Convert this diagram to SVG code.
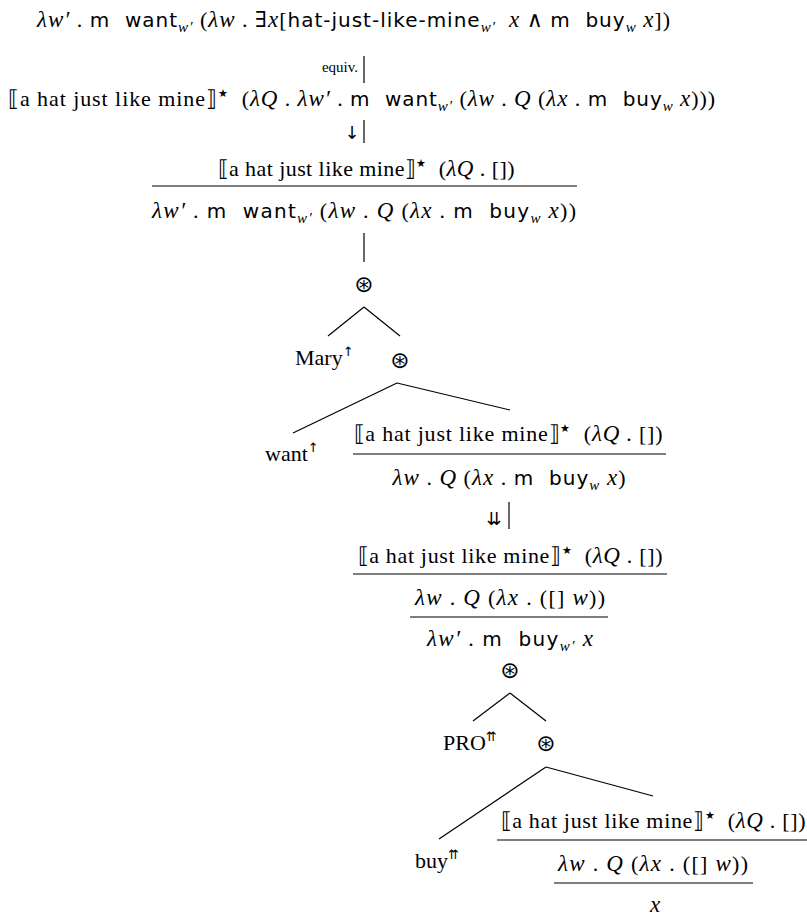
<svg xmlns="http://www.w3.org/2000/svg" width="807" height="920" viewBox="0 0 807 920">
<style>
text { font-family: "Liberation Serif", "DejaVu Serif", serif; font-size: 22px; fill: #000; white-space: pre; }
.c { text-anchor: middle; }
.i { font-style: italic; font-size: 23px; }
.sf { font-family: "DejaVu Sans", sans-serif; font-size: 20px; font-style: normal; }
.sub { font-size: 15px; font-style: italic; }
.star { font-size: 11px; }
.arr { font-family: "DejaVu Sans", sans-serif; font-size: 13px; fill: #000; }
.op { font-family: "DejaVu Sans", sans-serif; font-size: 23px; text-anchor: middle; }
.small { font-size: 15px; }
line { stroke: #000; stroke-width: 1.2; }
</style>

<g id="n-top">
<text x="37" y="27" textLength="633" lengthAdjust="spacing" xml:space="preserve"><tspan class="i">λw′</tspan> . <tspan class="sf">m  want</tspan><tspan class="sub" dy="5">w′</tspan><tspan dy="-5"> (</tspan><tspan class="i">λw</tspan> . ∃<tspan class="i">x</tspan>[<tspan class="sf">hat-just-like-mine</tspan><tspan class="sub" dy="5">w′</tspan><tspan dy="-5">  </tspan><tspan class="i">x</tspan> ∧ <tspan class="sf">m  buy</tspan><tspan class="sub" dy="5">w</tspan><tspan dy="-5"> </tspan><tspan class="i">x</tspan>])</text>
</g>

<g id="n-lift">
<text x="8" y="106" textLength="707" lengthAdjust="spacing" xml:space="preserve">⟦a hat just like mine⟧<tspan class="star" dy="-9">★</tspan><tspan dy="9">  (</tspan><tspan class="i">λQ</tspan> . <tspan class="i">λw′</tspan> . <tspan class="sf">m  want</tspan><tspan class="sub" dy="5">w′</tspan><tspan dy="-5"> (</tspan><tspan class="i">λw</tspan> . <tspan class="i">Q</tspan> (<tspan class="i">λx</tspan> . <tspan class="sf">m  buy</tspan><tspan class="sub" dy="5">w</tspan><tspan dy="-5"> </tspan><tspan class="i">x</tspan>)))</text>
</g>

<g id="n-box1">
<text class="c" x="366" y="176" textLength="297" lengthAdjust="spacing" xml:space="preserve">⟦a hat just like mine⟧<tspan class="star" dy="-9">★</tspan><tspan dy="9">  (</tspan><tspan class="i">λQ</tspan> . [])</text>
<line x1="152" y1="186" x2="577" y2="186"/>
<text class="c" x="364" y="218" textLength="424" lengthAdjust="spacing" xml:space="preserve"><tspan class="i">λw′</tspan> . <tspan class="sf">m  want</tspan><tspan class="sub" dy="5">w′</tspan><tspan dy="-5"> (</tspan><tspan class="i">λw</tspan> . <tspan class="i">Q</tspan> (<tspan class="i">λx</tspan> . <tspan class="sf">m  buy</tspan><tspan class="sub" dy="5">w</tspan><tspan dy="-5"> </tspan><tspan class="i">x</tspan>))</text>
</g>

<g id="n-op1"><text class="op" x="364" y="292">⊛</text></g>
<g id="n-mary"><text x="295" y="365">Mary<tspan class="arr" dy="-9">↑</tspan></text></g>
<g id="n-op2"><text class="op" x="400" y="368">⊛</text></g>
<g id="n-want"><text x="265" y="461">want<tspan class="arr" dy="-9">↑</tspan></text></g>

<g id="n-box2">
<text class="c" x="508" y="441" textLength="309" lengthAdjust="spacing" xml:space="preserve">⟦a hat just like mine⟧<tspan class="star" dy="-9">★</tspan><tspan dy="9">  (</tspan><tspan class="i">λQ</tspan> . [])</text>
<line x1="353" y1="454" x2="666" y2="454"/>
<text class="c" x="509" y="485" textLength="233" lengthAdjust="spacing" xml:space="preserve"><tspan class="i">λw</tspan> . <tspan class="i">Q</tspan> (<tspan class="i">λx</tspan> . <tspan class="sf">m  buy</tspan><tspan class="sub" dy="5">w</tspan><tspan dy="-5"> </tspan><tspan class="i">x</tspan>)</text>
</g>

<g id="n-box3">
<text class="c" x="510" y="563" textLength="305" lengthAdjust="spacing" xml:space="preserve">⟦a hat just like mine⟧<tspan class="star" dy="-9">★</tspan><tspan dy="9">  (</tspan><tspan class="i">λQ</tspan> . [])</text>
<line x1="353" y1="574" x2="667" y2="574"/>
<text class="c" x="510" y="605" textLength="190" lengthAdjust="spacing" xml:space="preserve"><tspan class="i">λw</tspan> . <tspan class="i">Q</tspan> (<tspan class="i">λx</tspan> . ([] <tspan class="i">w</tspan>))</text>
<line x1="410" y1="617" x2="608" y2="617"/>
<text class="c" x="510" y="646" textLength="166" lengthAdjust="spacing" xml:space="preserve"><tspan class="i">λw′</tspan> . <tspan class="sf">m  buy</tspan><tspan class="sub" dy="5">w′</tspan><tspan dy="-5"> </tspan><tspan class="i">x</tspan></text>
</g>

<g id="n-op3"><text class="op" x="510" y="678">⊛</text></g>
<g id="n-pro"><text x="443" y="750">PRO<tspan class="arr" dy="-9">⇈</tspan></text></g>
<g id="n-op4"><text class="op" x="546" y="751">⊛</text></g>
<g id="n-buy"><text x="415" y="868">buy<tspan class="arr" dy="-9">⇈</tspan></text></g>

<g id="n-box4">
<text class="c" x="653" y="828" textLength="305" lengthAdjust="spacing" xml:space="preserve">⟦a hat just like mine⟧<tspan class="star" dy="-9">★</tspan><tspan dy="9">  (</tspan><tspan class="i">λQ</tspan> . [])</text>
<line x1="497" y1="840" x2="807" y2="840"/>
<text class="c" x="653" y="871" textLength="190" lengthAdjust="spacing" xml:space="preserve"><tspan class="i">λw</tspan> . <tspan class="i">Q</tspan> (<tspan class="i">λx</tspan> . ([] <tspan class="i">w</tspan>))</text>
<line x1="554" y1="883" x2="753" y2="883"/>
<text class="c i" x="655" y="912">x</text>
</g>

<g id="connectors">
<text class="small" x="358" y="72" text-anchor="end">equiv.</text>
<line x1="364" y1="56" x2="364" y2="83"/>
<text class="arr" x="352" y="139" text-anchor="middle" style="font-size:18px">↓</text>
<line x1="364" y1="120" x2="364" y2="143"/>
<line x1="364" y1="233" x2="364" y2="262"/>
<line x1="364" y1="307" x2="328" y2="336"/>
<line x1="364" y1="307" x2="400" y2="336"/>
<line x1="397" y1="383" x2="293" y2="433"/>
<line x1="397" y1="383" x2="510" y2="410"/>
<text class="arr" x="494" y="525" text-anchor="middle" style="font-size:18px">⇊</text>
<line x1="509" y1="502" x2="509" y2="529"/>
<line x1="510" y1="693" x2="473" y2="721"/>
<line x1="510" y1="693" x2="546" y2="721"/>
<line x1="546" y1="767" x2="439" y2="839"/>
<line x1="546" y1="767" x2="653" y2="796"/>
</g>
</svg>
